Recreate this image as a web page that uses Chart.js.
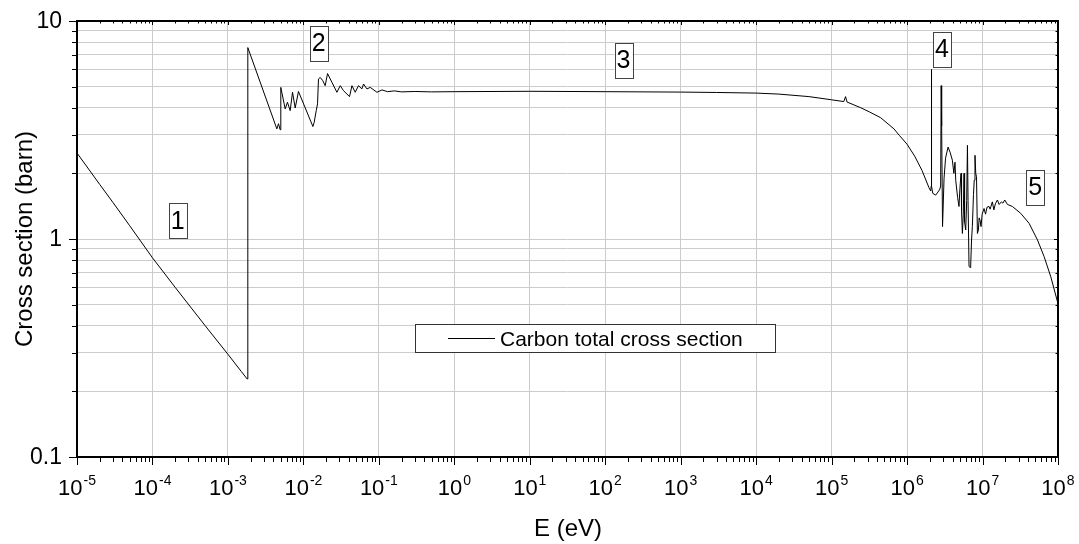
<!DOCTYPE html>
<html>
<head>
<meta charset="utf-8">
<title>Carbon total cross section</title>
<script src="https://cdn.jsdelivr.net/npm/chart.js@4.4.1/dist/chart.umd.min.js"></script>
<style>
  html, body { margin: 0; padding: 0; background: #fff; }
  canvas { display: block; }
</style>
</head>
<body>
<canvas id="chartCarbon" width="1079" height="544"></canvas>
<script>
// --------------------------------------
// data (E in eV, sigma in barn)
// --------------------------------------

const energyEV = [
  // 1: below the Bragg cutoff
  1e-5, 2e-5, 3e-5, 5e-5, 1e-4, 2e-4, 5e-4, 1e-3, 1.5e-3, 1.8e-3,
  // 2: Bragg edges
  1.835e-3, 4.45e-3, 4.68e-3, 4.92e-3, 5.02e-3, 5.74e-3, 6.15e-3, 6.68e-3,
  7.18e-3, 7.79e-3, 8.61e-3, 1.337e-2, 1.39e-2, 1.48e-2, 1.54e-2, 1.585e-2,
  1.67e-2, 1.81e-2, 1.945e-2, 2.09e-2, 2.39e-2, 2.78e-2, 3.08e-2, 3.4e-2,
  4.09e-2, 4.4e-2, 4.86e-2, 5.38e-2, 5.96e-2, 6.27e-2, 6.95e-2, 7.69e-2,
  9.44e-2, 0.11, 0.13, 0.16, 0.2, 0.3, 0.5,
  // 3: flat region and fall-off
  1, 10, 100, 1000, 3000, 1e4, 2e4, 5e4, 1e5, 1.45e5, 1.53e5, 1.6e5, 2.43e5,
  3.16e5, 4.47e5, 6.7e5, 7.94e5, 1e6, 1.26e6, 1.58e6, 1.95e6, 2.056e6,
  // 4: resonances
  2.089e6, 2.099e6, 2.118e6, 2.188e6, 2.393e6, 2.692e6, 2.786e6, 2.831e6,
  2.871e6, 2.951e6, 3.09e6, 3.236e6, 3.491e6, 3.715e6, 3.981e6, 4.169e6,
  4.315e6, 4.416e6, 4.677e6, 4.875e6, 5.012e6, 5.188e6, 5.272e6, 5.408e6,
  5.559e6, 5.689e6, 5.781e6, 5.984e6, 6.166e6, 6.31e6, 6.427e6, 6.622e6,
  6.839e6, 6.966e6, 7.161e6, 7.328e6, 7.586e6, 7.762e6, 7.943e6, 8.128e6,
  8.318e6, 8.551e6, 8.81e6, 9.016e6, 9.268e6, 9.55e6, 9.886e6,
  // 5: high energy
  1.047e7, 1.096e7, 1.148e7, 1.219e7, 1.259e7, 1.349e7, 1.413e7, 1.479e7,
  1.574e7, 1.66e7, 1.778e7, 1.862e7, 1.968e7, 2.138e7, 2.489e7, 3.214e7,
  4.14e7, 5.346e7, 6.546e7, 8.035e7, 1e8,
];

const sigmaBarn = [
  2.48, 1.78, 1.47, 1.15, 0.82, 0.6, 0.4, 0.296, 0.247, 0.228,
  7.55, 3.2, 3.38, 3.17, 4.96, 3.95, 4.24, 3.88,
  4.71, 3.99, 4.75, 3.28, 3.43, 3.88, 4.17, 5.42,
  5.51, 5.32, 5.05, 5.74, 5.23, 4.71, 5.05, 4.79,
  4.5, 5.05, 4.71, 5.05, 4.88, 5.14, 4.88, 4.96,
  4.71, 4.83, 4.74, 4.78, 4.73, 4.75, 4.73,
  4.74, 4.76, 4.74, 4.72, 4.7, 4.67, 4.62, 4.5, 4.35, 4.27, 4.5, 4.25, 4.0,
  3.83, 3.6, 3.2, 2.98, 2.72, 2.4, 2.06, 1.72, 1.66,
  1.75, 6.0, 1.75, 1.62, 1.59, 1.68, 1.75, 5.05,
  3.3, 1.14, 1.9, 2.35, 2.64, 2.5, 2.3, 2.0,
  2.25, 1.85, 1.55, 1.41, 1.7, 2.0, 1.35, 1.06,
  1.3, 2.0, 1.2, 1.1, 1.5, 2.69, 1.5, 0.748,
  0.74, 0.76, 1.0, 1.14, 1.6, 1.86, 2.42, 2.0,
  1.93, 1.06, 1.1, 1.25, 1.22, 1.14, 1.3,
  1.38, 1.3, 1.4, 1.41, 1.37, 1.48, 1.36, 1.45,
  1.51, 1.44, 1.48, 1.46, 1.51, 1.44, 1.41, 1.31,
  1.18, 0.99, 0.83, 0.67, 0.505,
];

// tick labels
const xTickExponents = [-5, -4, -3, -2, -1, 0, 1, 2, 3, 4, 5, 6, 7, 8];
const yTickValues = [0.1, 1, 10];
const yTickLabels = ["0.1", "1", "10"];
const minorSteps = [2, 3, 4, 5, 6, 7, 8, 9];

// region markers: label, energy, sigma of box centre
const regionLabels = ["1", "2", "3", "4", "5"];
const regionEnergy = [2.16e-4, 1.6e-2, 1.75e2, 2.9e6, 5e7];
const regionSigma = [1.21, 7.9, 6.6, 7.4, 1.73];

const FONT = "'Liberation Sans', Arial, Helvetica, sans-serif";
const GRID = "#cccccc";

// --------------------------------------
// helpers
// --------------------------------------

function buatTicksLog(decades) {
  const ticks = [];
  decades.forEach((p, i) => {
    const base = Math.pow(10, p);
    ticks.push({ value: base, major: true });
    if (i < decades.length - 1) {
      minorSteps.forEach((m) => ticks.push({ value: m * base, major: false }));
    }
  });
  return ticks;
}

const yDecades = yTickValues.map((v) => Math.round(Math.log10(v)));

// --------------------------------------
// frame, ticks, labels, legend (drawn on top)
// --------------------------------------

const framePlugin = {
  id: "frameOrigin",
  afterDraw(chart) {
    const { ctx, chartArea: a } = chart;
    const xs = chart.scales.x;
    const ys = chart.scales.y;

    ctx.save();
    ctx.strokeStyle = "#000";

    // tick marks
    ctx.lineWidth = 1;
    xs.ticks.forEach((t) => {
      const px = Math.round(xs.getPixelForValue(t.value)) + 0.5;
      const len = t.major ? 8 : 5;
      ctx.beginPath();
      ctx.moveTo(px, a.bottom);
      ctx.lineTo(px, a.bottom + len);
      ctx.moveTo(px, a.top);
      ctx.lineTo(px, a.top + (t.major ? 4 : 2.5));
      ctx.stroke();
    });
    ys.ticks.forEach((t) => {
      const py = Math.round(ys.getPixelForValue(t.value)) + 0.5;
      const len = t.major ? 8 : 5;
      ctx.beginPath();
      ctx.moveTo(a.left, py);
      ctx.lineTo(a.left - len, py);
      ctx.moveTo(a.right, py);
      ctx.lineTo(a.right - (t.major ? 4 : 2.5), py);
      ctx.stroke();
    });

    // frame
    ctx.lineWidth = 2;
    ctx.strokeRect(a.left, a.top, a.right - a.left, a.bottom - a.top);

    ctx.fillStyle = "#000";

    // y labels
    ctx.font = "23px " + FONT;
    ctx.textAlign = "right";
    ctx.textBaseline = "middle";
    yTickValues.forEach((v, i) => {
      ctx.fillText(yTickLabels[i], 62, ys.getPixelForValue(v) + 1);
    });

    // x labels 10^n
    ctx.textAlign = "left";
    ctx.textBaseline = "alphabetic";
    xTickExponents.forEach((p) => {
      const px = xs.getPixelForValue(Math.pow(10, p));
      ctx.font = "22px " + FONT;
      const wBase = ctx.measureText("10").width;
      ctx.font = "14px " + FONT;
      const wExp = ctx.measureText(String(p)).width;
      const x0 = px - (wBase + wExp + 1) / 2;
      ctx.font = "22px " + FONT;
      ctx.fillText("10", x0, a.bottom + 38);
      ctx.font = "14px " + FONT;
      ctx.fillText(String(p), x0 + wBase + 1, a.bottom + 28);
    });

    // axis titles
    ctx.font = "24px " + FONT;
    ctx.textAlign = "center";
    ctx.fillText("E (eV)", (a.left + a.right) / 2 + 0.5, 536);
    ctx.save();
    ctx.translate(31.5, (a.top + a.bottom) / 2);
    ctx.rotate(-Math.PI / 2);
    ctx.fillText("Cross section (barn)", 0, 0);
    ctx.restore();

    // region boxes
    ctx.font = "25px " + FONT;
    ctx.textBaseline = "middle";
    regionLabels.forEach((lbl, i) => {
      const cx = xs.getPixelForValue(regionEnergy[i]);
      const cy = ys.getPixelForValue(regionSigma[i]);
      ctx.fillStyle = "#fff";
      ctx.fillRect(cx - 9, cy - 17.5, 18, 35);
      ctx.strokeStyle = "#444";
      ctx.lineWidth = 1;
      ctx.strokeRect(Math.round(cx - 9) + 0.5, Math.round(cy - 17.5) + 0.5, 18, 35);
      ctx.fillStyle = "#000";
      ctx.fillText(lbl, cx, cy + 1);
    });

    // legend
    ctx.fillStyle = "#fff";
    ctx.fillRect(416, 324, 360, 28);
    ctx.strokeStyle = "#333";
    ctx.lineWidth = 1;
    ctx.strokeRect(415.5, 324.5, 360, 28);
    ctx.strokeStyle = "#000";
    ctx.beginPath();
    ctx.moveTo(448, 338.5);
    ctx.lineTo(495, 338.5);
    ctx.stroke();
    ctx.fillStyle = "#000";
    ctx.font = "21px " + FONT;
    ctx.textAlign = "left";
    ctx.textBaseline = "alphabetic";
    ctx.fillText(chart.data.datasets[0].label, 500, 346);

    ctx.restore();
  },
};

// --------------------------------------
// chart
// --------------------------------------

const ctx = document.getElementById("chartCarbon");

new Chart(ctx, {
  type: "line",
  data: {
    datasets: [
      {
        label: "Carbon total cross section",
        data: energyEV.map((e, i) => ({ x: e, y: sigmaBarn[i] })),
        borderColor: "#000",
        borderWidth: 1,
        pointRadius: 0,
        tension: 0,
        fill: false,
      },
    ],
  },
  options: {
    responsive: false,
    animation: false,
    layout: { padding: { left: 77, right: 21, top: 21, bottom: 87 } },
    plugins: { legend: { display: false }, tooltip: { enabled: false } },
    scales: {
      x: {
        type: "logarithmic",
        min: 1e-5,
        max: 1e8,
        afterBuildTicks: (scale) => {
          scale.ticks = buatTicksLog(xTickExponents);
        },
        ticks: { display: false },
        border: { display: false },
        grid: {
          drawTicks: false,
          color: (c) => (c.tick && c.tick.major ? GRID : "rgba(0,0,0,0)"),
          lineWidth: 1,
        },
      },
      y: {
        type: "logarithmic",
        min: 0.1,
        max: 10,
        afterBuildTicks: (scale) => {
          scale.ticks = buatTicksLog(yDecades);
        },
        ticks: { display: false },
        border: { display: false },
        grid: { drawTicks: false, color: GRID, lineWidth: 1 },
      },
    },
  },
  plugins: [framePlugin],
});
</script>
</body>
</html>
